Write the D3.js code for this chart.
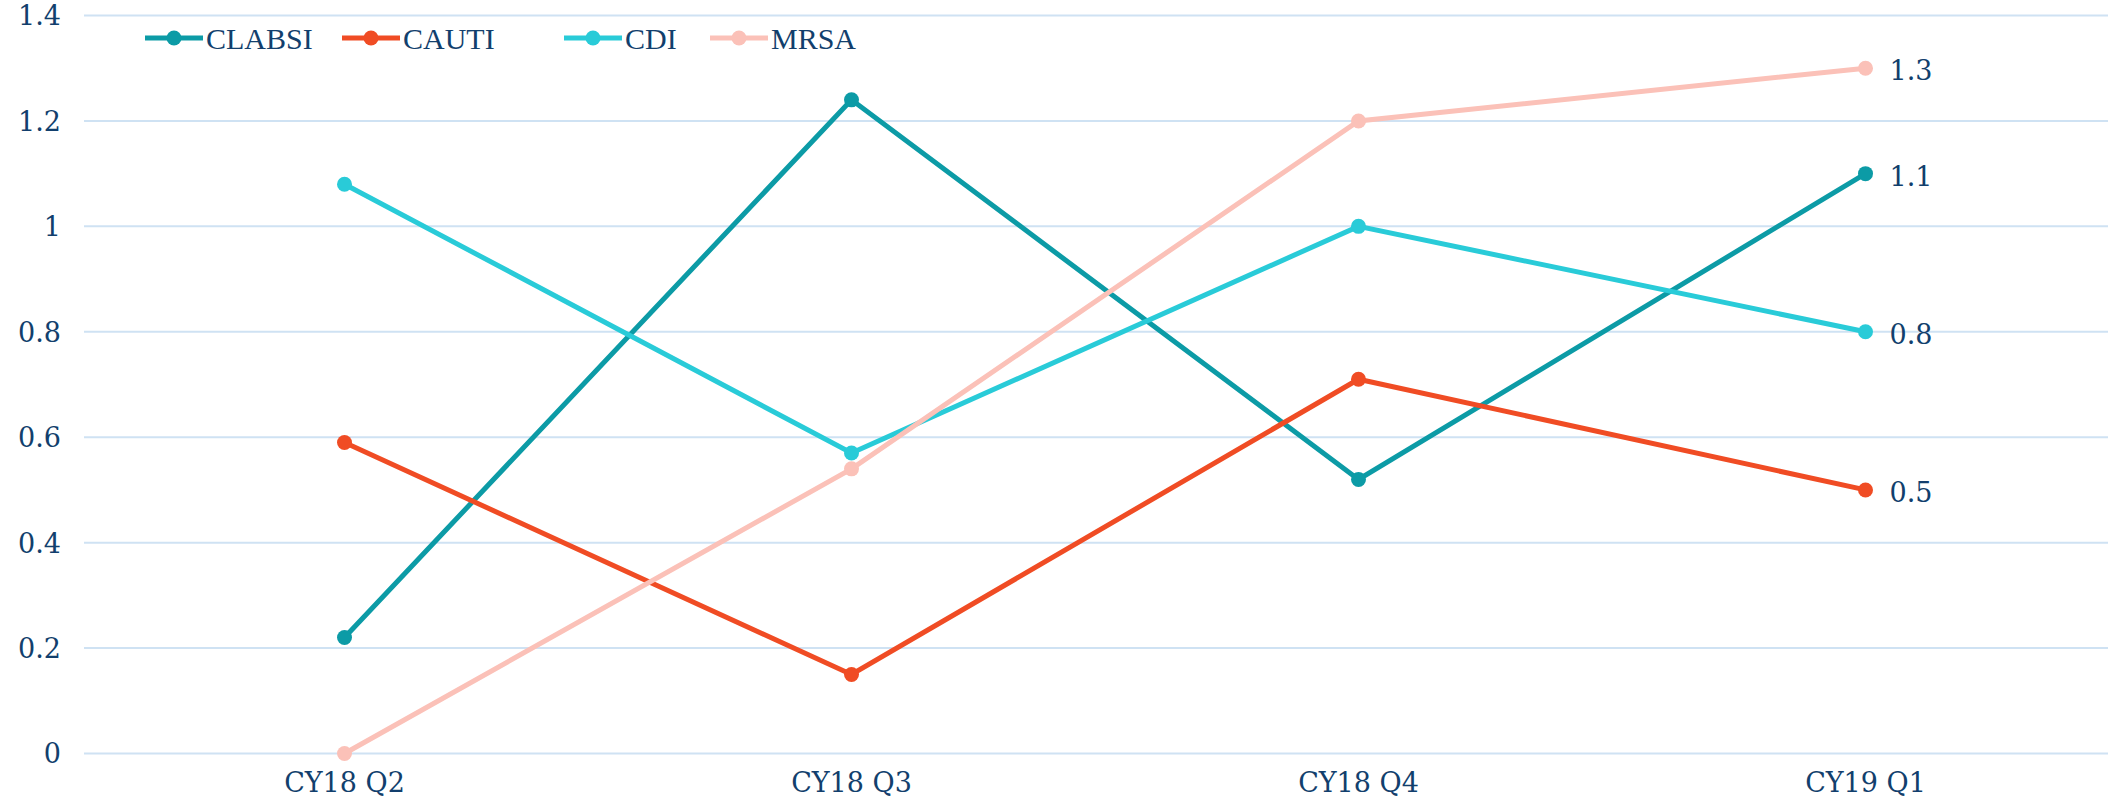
<!DOCTYPE html>
<html>
<head>
<meta charset="utf-8">
<script src="https://cdnjs.cloudflare.com/ajax/libs/d3/7.8.5/d3.min.js"></script>
<style>
	body { margin: 0; background: #fff; }
	.tick text { font-family: Georgia, "DejaVu Serif", serif; fill: #123f6d; }
</style>
</head>
<body>
<div id="viz"></div>
<script>
//==============================================================================
// Data
var quarters = ["CY18 Q2", "CY18 Q3", "CY18 Q4", "CY19 Q1"];
var series_names = ["CLABSI", "CAUTI", "CDI", "MRSA"];
var clabsi = [0.22, 1.24, 0.52, 1.10];
var cauti = [0.59, 0.15, 0.71, 0.50];
var cdi = [1.08, 0.57, 1.00, 0.80];
var mrsa = [0.00, 0.54, 1.20, 1.30];
var y_ticks = [0, 0.2, 0.4, 0.6, 0.8, 1, 1.2, 1.4];

//==============================================================================
// Initial variables
var width = 2121;
var height = 812;
var text_color = "#123f6d";
var grid_color = "#cfe2f3";
var colors = ["#0c9ba6", "#f04c24", "#29cbd8", "#fbc1b8"];
var line_width = 5, dot_radius = 7.5;

var series = [
	{name: series_names[0], values: clabsi, color: colors[0]},
	{name: series_names[1], values: cauti, color: colors[1]},
	{name: series_names[2], values: cdi, color: colors[2]},
	{name: series_names[3], values: mrsa, color: colors[3]}
];

var svg = d3.select("#viz")
			.append("svg")
			.attr("width", width)
			.attr("height", height);

// Scales
var xScale = d3.scaleBand()
				.domain(quarters)
				.range([91, 2119]);
var yScale = d3.scaleLinear()
				.domain([0, 1.4])
				.range([753.5, 15.5]);

//==============================================================================
// Gridlines and axes
svg.append("g")
	.attr("class", "grid")
	.selectAll("line")
	.data(y_ticks)
	.enter().append("line")
	.attr("x1", 84)
	.attr("x2", 2108)
	.attr("y1", function(d) { return yScale(d) })
	.attr("y2", function(d) { return yScale(d) })
	.attr("stroke", grid_color)
	.attr("stroke-width", 2);

var yAxis = d3.axisLeft(yScale)
			.tickValues(y_ticks)
			.tickSize(0)
			.tickPadding(0)
			.tickFormat(function(d) { return d3.format("~g")(d) });

var yg = svg.append("g")
	.attr("class", "yaxis")
	.attr("transform", "translate(61,0)")
	.call(yAxis);
yg.select(".domain").remove();
yg.selectAll(".tick text")
	.attr("font-size", 27)
	.attr("dy", "0.35em");

var xAxis = d3.axisBottom(xScale).tickSize(0).tickPadding(0);
var xg = svg.append("g")
	.attr("transform", "translate(0,768)")
	.call(xAxis);
xg.select(".domain").remove();
xg.selectAll(".tick text")
	.attr("font-size", 27)
	.attr("dy", "0.9em");

//==============================================================================
// Lines and points
var line = d3.line()
	.x(function(d, i) { return xScale(quarters[i]) + xScale.bandwidth() / 2 })
	.y(function(d) { return yScale(d) });

var groups = svg.append("g")
	.selectAll("g")
	.data(series)
	.enter().append("g");

groups.append("path")
	.attr("d", function(d) { return line(d.values) })
	.attr("fill", "none")
	.attr("stroke", function(d) { return d.color })
	.attr("stroke-width", line_width);

groups.selectAll("circle")
	.data(function(d) { return d.values.map(function(v, i) { return {v: v, i: i, color: d.color} }) })
	.enter().append("circle")
	.attr("cx", function(d) { return xScale(quarters[d.i]) + xScale.bandwidth() / 2 })
	.attr("cy", function(d) { return yScale(d.v) })
	.attr("r", dot_radius)
	.attr("fill", function(d) { return d.color });

// Labels on last point
var last = quarters.length - 1;
groups.append("text")
	.attr("x", xScale(quarters[last]) + xScale.bandwidth() / 2 + 24)
	.attr("y", function(d) { return yScale(d.values[last]) })
	.attr("dy", "0.45em")
	.attr("font-family", "Georgia, 'DejaVu Serif', serif")
	.attr("font-size", 27)
	.attr("fill", text_color)
	.text(function(d) { return d.values[last].toFixed(1) });

//==============================================================================
// Legend
var legend_x = [145, 342, 564, 710];
var legend = svg.append("g")
	.selectAll("g")
	.data(series)
	.enter().append("g")
	.attr("transform", function(d, i) { return "translate(" + legend_x[i] + ",38)" });

legend.append("line")
	.attr("x1", 0).attr("x2", 58)
	.attr("stroke", function(d) { return d.color })
	.attr("stroke-width", line_width);
legend.append("circle")
	.attr("cx", 29)
	.attr("r", dot_radius)
	.attr("fill", function(d) { return d.color });
legend.append("text")
	.attr("x", 61)
	.attr("dy", "0.35em")
	.attr("font-family", "'Liberation Serif', serif")
	.attr("font-size", 30)
	.attr("fill", text_color)
	.text(function(d) { return d.name });
</script>
</body>
</html>
